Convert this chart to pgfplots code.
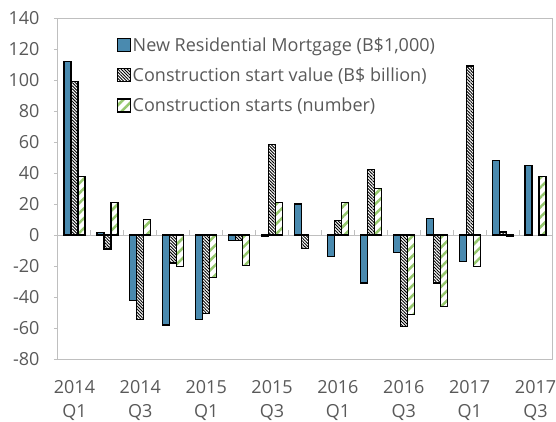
\documentclass[border=0pt]{standalone}
\usepackage{fontspec}
\setmainfont{Open Sans}
\usepackage{pgfplots}
\pgfplotsset{compat=1.18}
\usetikzlibrary{patterns.meta}
\definecolor{blueb}{RGB}{74,138,175}
\definecolor{greenh}{RGB}{150,200,110}
\definecolor{txt}{RGB}{89,89,89}
\definecolor{framec}{RGB}{191,191,191}
\begin{document}
\begin{tikzpicture}[x=1pt,y=1pt]
\useasboundingbox (0,0) rectangle (556,421);
\begin{axis}[at={(58pt,62pt)}, anchor=south west,
  width=494pt, height=341pt, scale only axis,
  xmin=-0.5, xmax=14.5, ymin=-80, ymax=140,
  ytick={-80,-60,...,140},
  xtick={0,2,...,14},
  xticklabels={2014\\Q1,2014\\Q3,2015\\Q1,2015\\Q3,2016\\Q1,2016\\Q3,2017\\Q1,2017\\Q3},
  x tick label style={align=center, text=txt, font=\fontsize{18}{24}\selectfont, yshift=-14pt},
  y tick label style={text=txt, font=\fontsize{18}{20}\selectfont, xshift=-11pt},
  /pgf/number format/assume math mode=true,
  ybar=0pt, bar width=7pt,
  axis line style={framec, line width=1pt},
  major x tick style={draw=none},
  ytick pos=left, tick align=outside,
  major tick length=4pt,
  y tick style={framec, line width=1pt},
  legend style={at={(0.112,0.955)}, anchor=north west, draw=none, fill=none,
    font=\fontsize{18}{20}\selectfont, text=txt, row sep=11pt,
    /tikz/every even column/.append style={column sep=0pt}},
  legend cell align=left,
  legend image code/.code={\draw[#1,line width=1.2pt] (0pt,-6.5pt) rectangle (13pt,6.5pt);},
]
\draw[framec, line width=1pt] (axis cs:-0.5,0) -- (axis cs:14.5,0);
\pgfplotsinvokeforeach{0,...,13}{\draw[framec, line width=1pt] (axis cs:#1+0.5,0) -- (axis cs:#1+0.5,3);}
\addplot[draw=black, line width=1.2pt, fill=blueb] coordinates {
(0,112) (1,1.5) (2,-42) (3,-58) (4,-54.5) (5,-3.5) (6,-1) (7,20) (8,-14) (9,-31) (10,-11.5) (11,10.5) (12,-17) (13,48) (14,45)};
\addlegendentry{New Residential Mortgage (B\$1,000)}
\addplot[draw=black, line width=1.2pt, fill=white,
  postaction={pattern={Lines[angle=-45,distance=2.2pt,line width=0.9pt]}, pattern color=black}] coordinates {
(0,99) (1,-9) (2,-54.5) (3,-18) (4,-50.5) (5,-3.5) (6,58.5) (7,-8.5) (8,9.5) (9,42.5) (10,-59) (11,-31) (12,109) (13,2)};
\addlegendentry{Construction start value (B\$ billion)}
\addplot[draw=black, line width=1.2pt, fill=white,
  postaction={pattern={Lines[angle=45,distance=7pt,line width=2.5pt]}, pattern color=greenh}] coordinates {
(0,38) (1,21) (2,10) (3,-20.5) (4,-27.5) (5,-19.5) (6,21) (8,21) (9,30) (10,-51.5) (11,-46) (12,-20.5) (13,-1) (14,38)};
\addlegendentry{Construction starts (number)}
\end{axis}
\end{tikzpicture}
\end{document}
